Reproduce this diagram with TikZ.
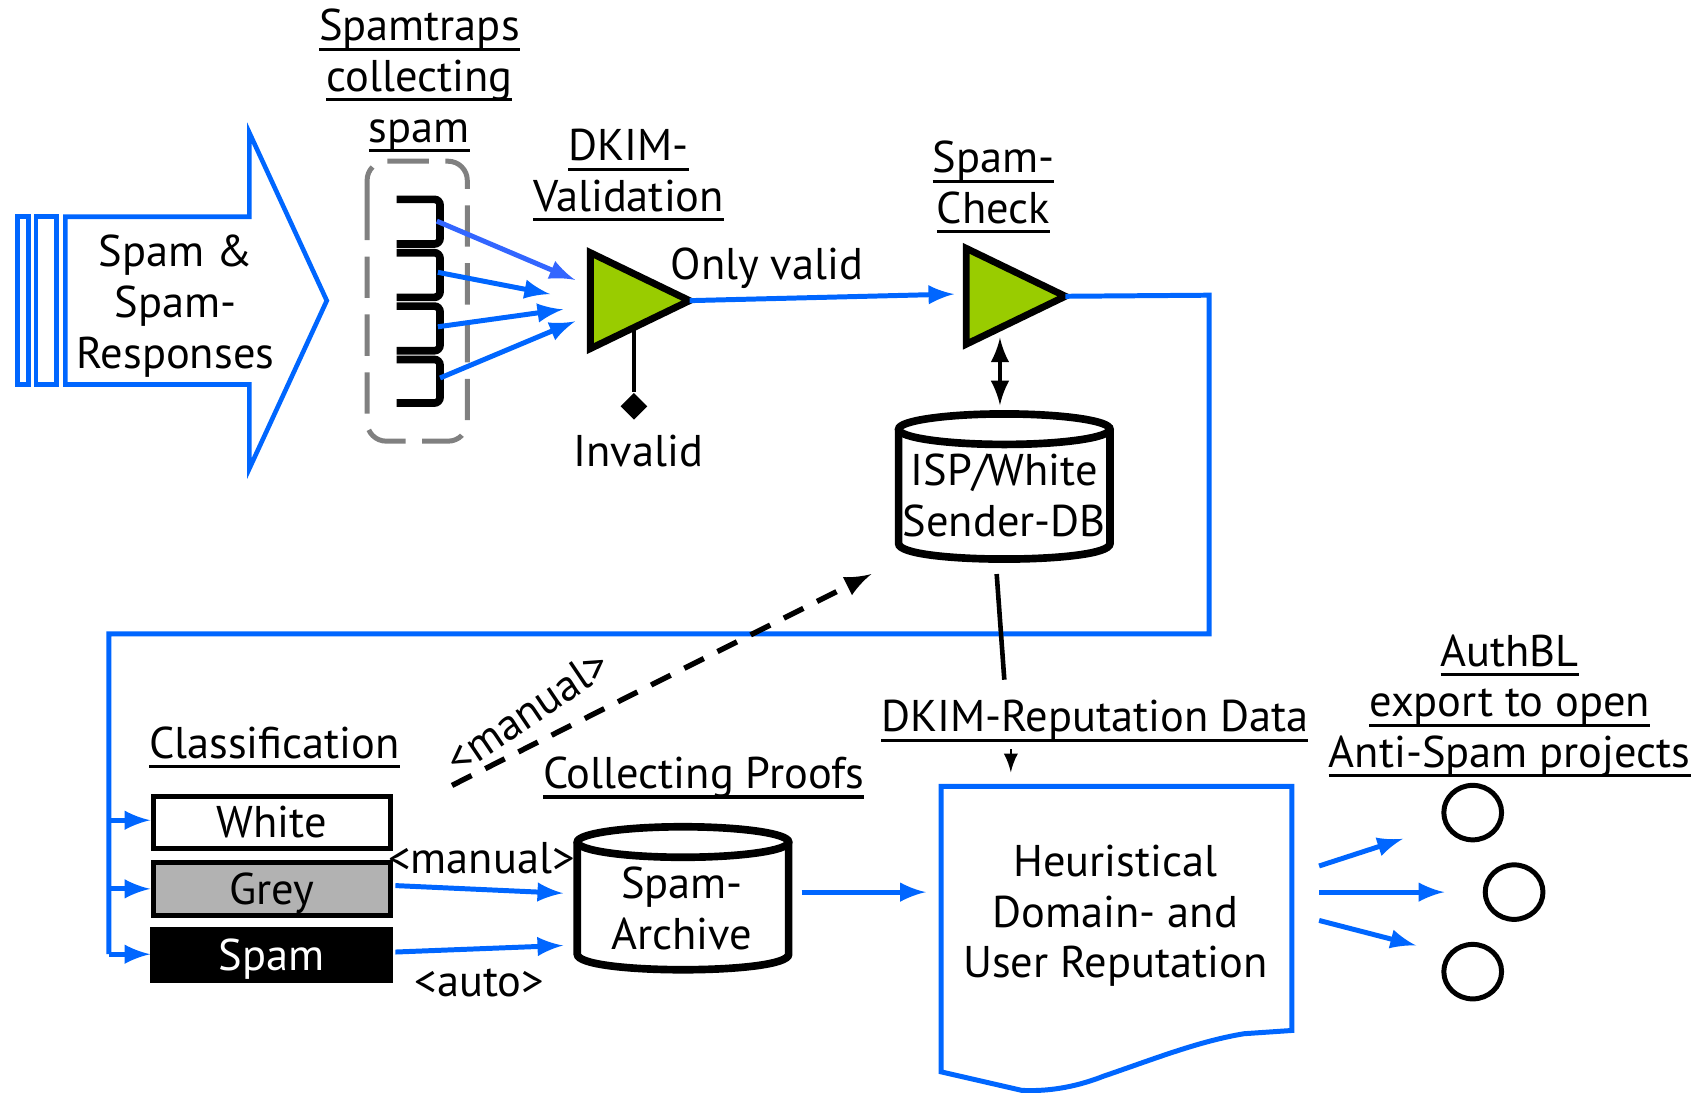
\documentclass[tikz,border=0pt]{standalone}
\usepackage{fontspec}
\setmainfont{PT Sans}
\usetikzlibrary{shapes.geometric}
\definecolor{spamblue}{HTML}{0066FF}
\definecolor{spamgreen}{HTML}{99CC00}
\definecolor{spamgrey}{HTML}{B2B2B2}
\newcommand{\hd}[1]{\setbox0\hbox{#1}\rlap{\rule[-2.6pt]{\wd0}{0.8pt}}\box0}
\tikzset{
  lbl/.style={font=\fontsize{11.6}{13.2}\selectfont,align=center,inner sep=0pt},
  flow/.style={->,draw=spamblue,line width=1.3pt},
  amp/.style={isosceles triangle,isosceles triangle apex angle=50,isosceles triangle stretches=true,draw=black,fill=spamgreen,line width=1.8pt,minimum width=.88cm,minimum height=.91cm,inner sep=0pt,outer sep=0pt,anchor=lower side},
  classbox/.style={lbl,draw=black,line width=1.3pt,minimum width=2.17cm,minimum height=.48cm,outer sep=0pt,text height=8pt,text depth=0pt},
  dbline/.style={draw=black,line width=2pt},
  sink/.style={ellipse,draw=black,line width=1.3pt,minimum width=.53cm,minimum height=.5cm,inner sep=0pt},
}
\begin{document}
\begin{tikzpicture}[x=.01cm,y=-.01cm,>=latex]
\useasboundingbox (0,0) rectangle (1568,1003);

% input
\draw[spamblue,line width=1.2pt] (16,199) rectangle (26,353);
\draw[spamblue,line width=1.2pt] (33,199) rectangle (52,353);
\draw[spamblue,line width=1.2pt] (60,199) -- (229,199) -- (229,122) -- (300,276) -- (229,430) -- (229,353) -- (60,353) -- cycle;
\node[lbl] (input) at (161,281) {Spam \&\\Spam-\\Responses};

% spamtraps
\node[lbl] (traptitle) at (385,74) {\hd{Spamtraps}\\\hd{collecting}\\\hd{spam}};
\draw[gray,line width=1.3pt,dash pattern=on 10.8pt off 4.3pt,rounded corners=5pt] (337,190) -- (337,148) -- (429,148) -- (429,405) -- (337,405) -- (337,190);
\foreach \y/\z in {183/224,232/273,281/322,330/370}
  \draw[black,line width=2pt,rounded corners=1.5pt] (364,\y) -- (404,\y) -- (404,\z) -- (364,\z);

\coordinate (trapa) at (401,203);
\coordinate (trapb) at (402,250);
\coordinate (trapc) at (402,300);
\coordinate (trapd) at (404,347);
\coordinate (gatea) at (528,257);
\coordinate (gateb) at (505,270);
\coordinate (gatec) at (517,284);
\coordinate (gated) at (528,295);

% dkim validation
\node[lbl] (dkimtitle) at (577,161) {\hd{DKIM-}\\\hd{Validation}};
\node[amp] (dkim) at (542,276) {};
\draw[->,draw={rgb,255:red,51;green,102;blue,255},line width=1.3pt] (trapa) -- (gatea);
\draw[flow] (trapb) -- (gateb);
\draw[flow] (trapc) -- (gatec);
\draw[flow] (trapd) -- (gated);
\node[lbl] (onlyvalid) at (704,246) {Only valid};
\node[diamond,fill=black,minimum width=.25cm,minimum height=.25cm,inner sep=0pt] (drop) at (582,373) {};
\node[lbl] (invalid) at (586,414) {Invalid};
\coordinate (dkimfoot) at (582,302);
\draw[line width=1.2pt] (dkimfoot) -- (drop);

% spam check
\node[lbl] (checktitle) at (912,172) {\hd{Spam-}\\\hd{Check}};
\node[amp] (check) at (887,272) {};
\coordinate (checkin) at (876,270);
\draw[flow] (dkim.apex) -- (checkin);

% sender db
\draw[dbline] (922,394) ellipse [x radius=97,y radius=14];
\draw[dbline] (825,394) -- (825,499) .. controls (825,518) and (1019,518) .. (1019,499) -- (1019,394);
\node[lbl] (senderlbl) at (922,455) {ISP/White\\Sender-DB};
\coordinate (checkfoot) at (918,310);
\coordinate (dbtop) at (918,372);
\draw[<->,line width=1.2pt] (checkfoot) -- (dbtop);

% feedback bus
\coordinate (busw) at (138,753);
\coordinate (busg) at (138,816);
\coordinate (buss) at (138,876);
\coordinate (busend) at (100,876);
\draw[draw=spamblue,line width=1.3pt] (check.apex) -- (1110,271) -- (1110,582) -- (100,582) -- (busend);
\draw[flow] (100,753) -- (busw);
\draw[flow] (100,816) -- (busg);
\draw[flow] (busend) -- (buss);

% classification
\node[lbl] (classtitle) at (252,686) {\hd{Classification}};
\node[classbox] (white) at (249.500,755) {White};
\node[classbox,fill=spamgrey] (grey) at (249.500,816) {Grey};
\node[classbox,fill=black,text=white,minimum width=2.18cm,minimum height=.47cm] (spam) at (249.500,877) {Spam};

% archive
\node[lbl] (prooftitle) at (646,714) {\hd{Collecting Proofs}};
\draw[dbline] (627,773) ellipse [x radius=97,y radius=14];
\draw[dbline] (530,773) -- (530,876) .. controls (530,895) and (724,895) .. (724,876) -- (724,773);
\node[lbl] (archivelbl) at (626,834) {Spam-\\Archive};
\node[lbl] (manualb) at (442,788) {<manual>};
\node[lbl] (autolbl) at (440,902) {<auto>};
\coordinate (greyout) at (363,813);
\coordinate (spamout) at (363,874);
\coordinate (archa) at (517,820);
\coordinate (archb) at (517,868);
\draw[flow] (greyout) -- (archa);
\draw[flow] (spamout) -- (archb);

% manual feedback
\coordinate (mana) at (415,721);
\coordinate (manb) at (800,527);
\draw[->,line width=1.4pt,dash pattern=on 5.7pt off 4pt] (mana) -- (manb);
\node[lbl,rotate=34] (manuala) at (484,653) {<manual>};

% reputation
\node[lbl] (reptitle) at (1005,662) {\hd{DKIM-Reputation Data}};
\coordinate (dbfoot) at (915,527);
\coordinate (repfoot) at (922,624);
\coordinate (repa) at (928,688);
\coordinate (repb) at (928,709);
\draw[line width=1.2pt] (dbfoot) -- (repfoot);
\draw[->,line width=.7pt] (repa) -- (repb);
\draw[spamblue,line width=1.3pt] (864,722) -- (1186,722) -- (1186,946) -- (1142,949) .. controls (1100,956) and (1060,972) .. (1013,988) .. controls (985,999) and (960,1002) .. (938,1001) -- (864,984) -- cycle;
\node[lbl] (heur) at (1024,841) {Heuristical\\Domain- and\\User Reputation};
\coordinate (archout) at (736,819);
\coordinate (heurin) at (850,819);
\draw[flow] (archout) -- (heurin);

% export
\node[lbl] (authtitle) at (1386,648) {\hd{AuthBL}\\\hd{export to open}\\\hd{Anti-Spam projects}};
\node[sink] (sinka) at (1352,746) {};
\node[sink] (sinkb) at (1390,819) {};
\node[sink] (sinkc) at (1352,892) {};
\coordinate (outa) at (1211,795);
\coordinate (outb) at (1211,819);
\coordinate (outc) at (1211,845);
\coordinate (ina) at (1288,770);
\coordinate (inb) at (1326,819);
\coordinate (inc) at (1300,868);
\draw[flow] (outa) -- (ina);
\draw[flow] (outb) -- (inb);
\draw[flow] (outc) -- (inc);
\end{tikzpicture}
\end{document}
